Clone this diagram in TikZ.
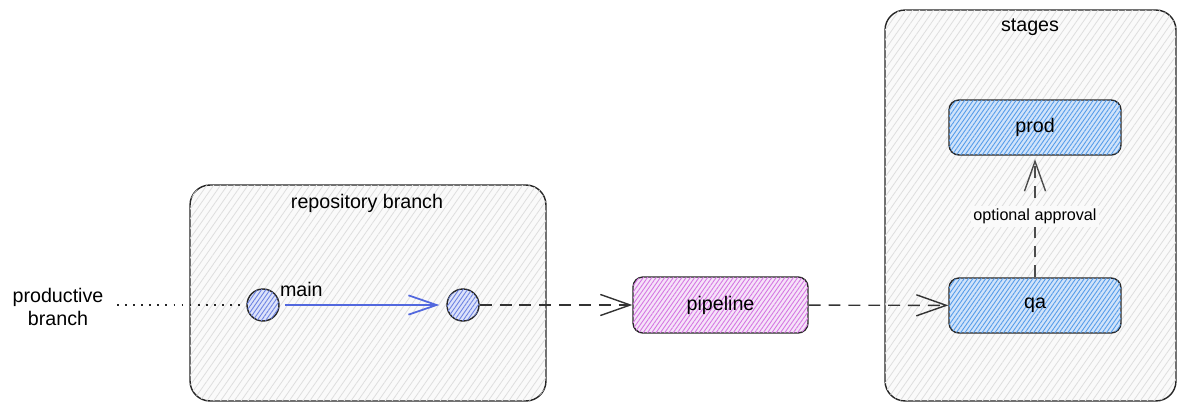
\documentclass[tikz,border=0pt]{standalone}
\usepackage{fontspec}
\setmainfont{Liberation Sans}
\usepackage{tikz}
\usetikzlibrary{arrows.meta,patterns.meta}

\definecolor{framehatch}{RGB}{222,222,222}
\definecolor{stagebg}{RGB}{208,227,250}
\definecolor{stagehatch}{RGB}{84,156,234}
\definecolor{commitbg}{RGB}{220,226,250}
\definecolor{commithatch}{RGB}{108,130,226}
\definecolor{pipebg}{RGB}{246,226,249}
\definecolor{pipehatch}{RGB}{212,118,226}
\definecolor{mainblue}{RGB}{82,104,222}

\begin{document}
\begin{tikzpicture}[x=0.02cm,y=-0.02cm,
  every node/.style={font=\fontsize{11.2}{13.2}\selectfont},
  frame/.style={draw=black!85,line width=0.8pt,rounded corners=0.4cm,fill=black!2,
    postaction={pattern={Lines[angle=55,distance=3.2pt,line width=0.45pt]},pattern color=framehatch}},
  stagebox/.style={draw=black!85,line width=0.8pt,rounded corners=0.2cm,fill=stagebg,
    minimum width=3.44cm,minimum height=1.1cm,
    postaction={pattern={Lines[angle=55,distance=2pt,line width=0.5pt]},pattern color=stagehatch}},
  pipebox/.style={draw=black!85,line width=0.8pt,rounded corners=0.2cm,fill=pipebg,
    minimum width=3.5cm,minimum height=1.12cm,
    postaction={pattern={Lines[angle=55,distance=2pt,line width=0.5pt]},pattern color=pipehatch}},
  commit/.style={circle,draw=black!85,line width=0.8pt,fill=commitbg,minimum size=0.64cm,inner sep=0pt,
    postaction={pattern={Lines[angle=55,distance=2pt,line width=0.5pt]},pattern color=commithatch}},
  flow/.style={black!80,line width=0.8pt,dash pattern=on 6.8pt off 4.5pt,
    -{Straight Barb[length=17pt,width=12pt,line width=0.8pt]}},
]
\useasboundingbox (0,0) rectangle (1186,412);
\node[frame,minimum width=7.12cm,minimum height=4.32cm] (repo) at (368,293) {};
\node[frame,minimum width=5.82cm,minimum height=7.82cm] (stages) at (1030.5,205.5) {};
\node (repotitle) at (367,203) {repository branch};
\node (stagestitle) at (1030,27) {stages};

\node[align=center] (prodbranch) at (58,307) {productive\\branch};
\coordinate (dotstart) at (117,305);
\node[commit] (c1) at (263,305) {};
\node[commit] (c2) at (463,305) {};
\node[pipebox] (pipeline) at (720.5,305) {pipeline};
\node[stagebox] (qa) at (1035,305.5) {qa};
\node[stagebox] (prod) at (1035,127.5) {prod};

\draw[black!85,line width=0.8pt,dash pattern=on 1pt off 3.6pt] (dotstart) -- (c1);
\draw[mainblue,line width=1.3pt,shorten <=3pt,shorten >=4pt,
  -{Straight Barb[length=16pt,width=11pt,line width=1pt]}] (c1) -- (c2)
  node[pos=0.13,above,black,yshift=1pt] (mainlbl) {main};
\draw[flow] (c2) -- (pipeline);
\draw[flow] (pipeline) -- (qa);
\draw[flow,black!70,shorten >=2pt] (qa) -- (prod)
  node[midway,fill=black!2,inner sep=1.5pt,font=\fontsize{9.2}{11}\selectfont,text=black] (approval) {optional approval};
\end{tikzpicture}
\end{document}
